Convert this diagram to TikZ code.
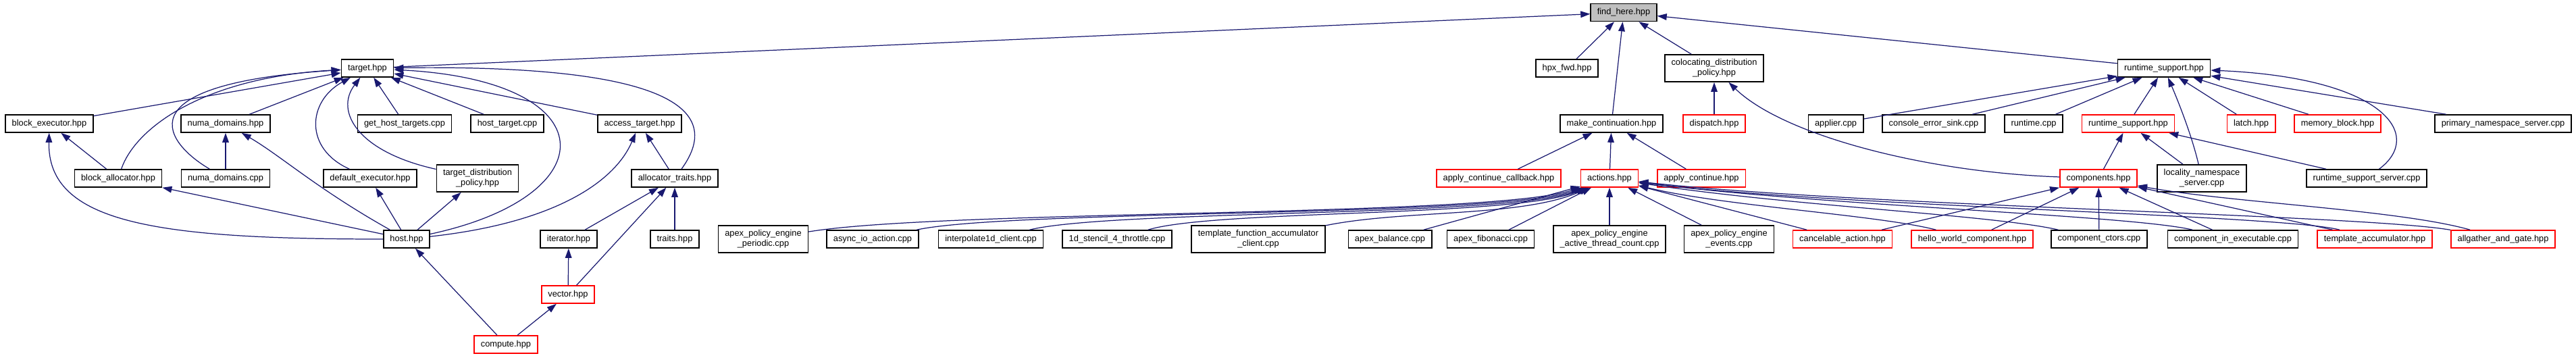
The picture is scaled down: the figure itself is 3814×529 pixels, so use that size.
\documentclass[tikz,border=0pt]{standalone}
\usepackage{fontspec}
\setmainfont{Liberation Sans}
\usetikzlibrary{arrows.meta}
\definecolor{inclblue}{RGB}{25,25,112}
\definecolor{rootgray}{RGB}{191,191,191}
\begin{document}
\begin{tikzpicture}[x=0.02cm, y=-0.02cm, font=\fontsize{7.3}{8.6}\selectfont,
	doc/.style={draw=black, line width=0.9pt, fill=white, inner xsep=5.5pt, inner ysep=0pt, minimum height=14.8pt, align=center},
	docred/.style={doc, draw=red},
	docdbl/.style={doc, minimum height=22.8pt},
	root/.style={doc, fill=rootgray},
	incl/.style={draw=inclblue, line width=0.7pt, -{Triangle[length=8pt,width=5.5pt]}}]
	% --- Cấu hình ---
	\def\yA{18.5} \def\yB{101} \def\yC{183} \def\yD{264} \def\yE{354} \def\yF{436} \def\yG{510}
	\useasboundingbox (0,0) rectangle (3814,529);
	% --- Các nút ---
	\node[root] (findhere) at (2404,\yA) {find\_here.hpp};
	\foreach \n/\x/\s/\t in {target/544/doc/target.hpp, hpxfwd/2320/doc/hpx\_fwd.hpp,
		coloc/2538/docdbl/{colocating\_distribution\\\_policy.hpp}, rtsup/3204/doc/runtime\_support.hpp}
	\node[\s] (\n) at (\x,\yB) {\t};
	\foreach \n/\x/\s/\t in {blockexec/73/doc/block\_executor.hpp, numadomh/334/doc/numa\_domains.hpp,
		gethost/599/doc/get\_host\_targets.cpp, hosttarget/751/doc/host\_target.cpp, access/947/doc/access\_target.hpp,
		makecont/2386/doc/make\_continuation.hpp, dispatch/2538/docred/dispatch.hpp, applier/2718/doc/applier.cpp,
		console/2863/doc/console\_error\_sink.cpp, runtimecpp/3011/doc/runtime.cpp, rtsupred/3151/docred/runtime\_support.hpp,
		latch/3333/docred/latch.hpp, memblock/3461/docred/memory\_block.hpp, primary/3706/doc/primary\_namespace\_server.cpp}
	\node[\s] (\n) at (\x,\yC) {\t};
	\foreach \n/\x/\s/\t in {blockalloc/175/doc/block\_allocator.hpp, numadomc/334/doc/numa\_domains.cpp,
		defexec/548/doc/default\_executor.hpp, targetdist/707/docdbl/{target\_distribution\\\_policy.hpp},
		alloctraits/999/doc/allocator\_traits.hpp, applycb/2219/docred/apply\_continue\_callback.hpp,
		actions/2383/docred/actions.hpp, applycont/2519/docred/apply\_continue.hpp, components/3107/docred/components.hpp,
		locality/3260/docdbl/{locality\_namespace\\\_server.cpp}, rtsupserver/3504/doc/runtime\_support\_server.cpp}
	\node[\s] (\n) at (\x,\yD) {\t};
	\foreach \n/\x/\s/\t in {host/602/doc/host.hpp, iterator/842/doc/iterator.hpp, traits/999/doc/traits.hpp,
		periodic/1130/docdbl/{apex\_policy\_engine\\\_periodic.cpp}, asyncio/1292/doc/async\_io\_action.cpp,
		interp/1467/doc/interpolate1d\_client.cpp, stencil/1654/doc/1d\_stencil\_4\_throttle.cpp,
		tfac/1863/docdbl/{template\_function\_accumulator\\\_client.cpp}, balance/2058/doc/apex\_balance.cpp,
		fib/2207/doc/apex\_fibonacci.cpp, activetc/2383/docdbl/{apex\_policy\_engine\\\_active\_thread\_count.cpp},
		events/2560/docdbl/{apex\_policy\_engine\\\_events.cpp}, cancel/2728/docred/cancelable\_action.hpp,
		hello/2920/docred/hello\_world\_component.hpp, ctors/3108/doc/component\_ctors.cpp,
		inexec/3306/doc/component\_in\_executable.cpp, tacc/3516/docred/template\_accumulator.hpp,
		allgather/3706/docred/allgather\_and\_gate.hpp}
	\node[\s] (\n) at (\x,\yE) {\t};
	\node[docred] (vector) at (841,\yF) {vector.hpp};
	\node[docred] (compute) at (749,\yG) {compute.hpp};
	% --- Cạnh thẳng ---
	\foreach \a/\b in {target/findhere, hpxfwd/findhere, makecont/findhere, coloc/findhere, rtsup/findhere,
		blockexec/target, numadomh/target, gethost/target, hosttarget/target, access/target,
		blockalloc/blockexec, numadomc/numadomh, host/blockalloc, host/defexec, host/targetdist,
		alloctraits/access, iterator/alloctraits, vector/alloctraits, traits/alloctraits,
		compute/host, vector/iterator, compute/vector, dispatch/coloc,
		applycb/makecont, actions/makecont, applycont/makecont,
		balance/actions, fib/actions, activetc/actions, events/actions, cancel/actions,
		cancel/components, hello/components, ctors/components, inexec/components, tacc/components,
		applier/rtsup, console/rtsup, runtimecpp/rtsup, rtsupred/rtsup, latch/rtsup, memblock/rtsup, primary/rtsup,
		components/rtsupred, locality/rtsupred, rtsupserver/rtsupred}
	\draw[incl] (\a) -- (\b);
	% --- Cạnh cong ---
	\draw[incl] (blockalloc) .. controls (200,190) and (300,115) .. (target);
	\draw[incl] (numadomc) .. controls (250,215) and (170,125) .. (target);
	\draw[incl] (defexec) .. controls (450,220) and (455,150) .. (target);
	\draw[incl] (targetdist) .. controls (530,225) and (495,165) .. (target);
	\draw[incl] (alloctraits) .. controls (1060,180) and (1040,95) .. (target);
	\draw[incl] (host) .. controls (900,290) and (900,120) .. (target);
	\draw[incl] (host) .. controls (230,354) and (70,330) .. (blockexec);
	\draw[incl] (host) .. controls (470,280) and (415,230) .. (numadomh);
	\draw[incl] (host) .. controls (820,330) and (910,270) .. (access);
	\draw[incl] (components) .. controls (2850,255) and (2640,200) .. (coloc);
	\draw[incl] (locality) .. controls (3245,200) and (3225,150) .. (rtsup);
	\draw[incl] (rtsupserver) .. controls (3590,200) and (3530,115) .. (rtsup);
	\draw[incl] (allgather) .. controls (3550,310) and (3300,300) .. (components);
	\foreach \a/\ca/\cb in {periodic/1400/2200, asyncio/1500/2220, interp/1650/2235, stencil/1800/2245, tfac/2080/2255}
	\draw[incl] (\a) .. controls (\ca,310) and (\cb,322) .. (actions);
	\foreach \a/\ca/\cb in {hello/2780/2550, ctors/2950/2650, inexec/3150/2700, tacc/3380/2700, allgather/3500/2750}
	\draw[incl] (\a) .. controls (\ca,318) and (\cb,305) .. (actions);
\end{tikzpicture}
\end{document}
